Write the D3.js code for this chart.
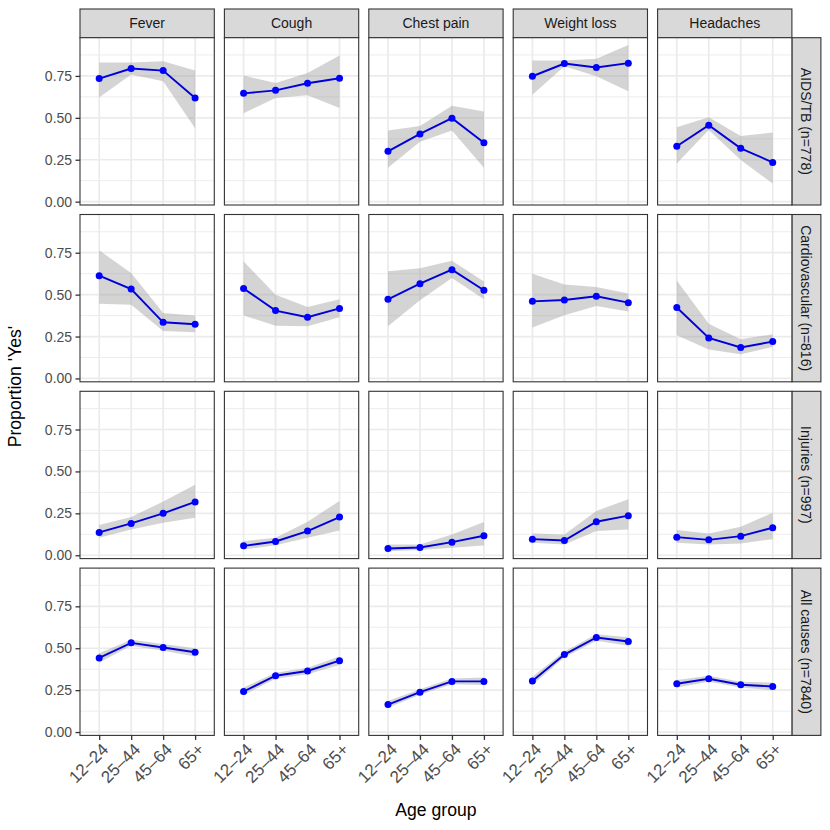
<!DOCTYPE html>
<html>
<head>
<meta charset="utf-8">
<script src="https://cdn.jsdelivr.net/npm/d3@7"></script>
<style>
body { margin: 0; background: #fff; }
text { font-family: "Liberation Sans", Arial, sans-serif; }
</style>
</head>
<body>
<div id="chart-area"></div>
<script>
var ageGroups = ['12\u201324', '25\u201344', '45\u201364', '65+'];
var symptoms = ['Fever', 'Cough', 'Chest pain', 'Weight loss', 'Headaches'];
var causes = ['AIDS/TB (n=778)', 'Cardiovascular (n=816)', 'Injuries (n=997)', 'All causes (n=7840)'];
var yTicks = [0, 0.25, 0.5, 0.75];
var yMinor = [0.125, 0.375, 0.625, 0.875];

// proportion 'Yes' per symptom (rows) and age group (columns)
var aidsProp   = [[0.734, 0.794, 0.782, 0.618], [0.646, 0.664, 0.706, 0.736], [0.300, 0.404, 0.498, 0.352], [0.748, 0.824, 0.800, 0.826], [0.330, 0.456, 0.318, 0.234]];
var aidsLo     = [[0.622, 0.758, 0.718, 0.438], [0.528, 0.618, 0.634, 0.558], [0.202, 0.358, 0.424, 0.202], [0.638, 0.808, 0.748, 0.658], [0.228, 0.428, 0.248, 0.108]];
var aidsHi     = [[0.830, 0.830, 0.838, 0.782], [0.752, 0.708, 0.768, 0.872], [0.424, 0.452, 0.572, 0.538], [0.842, 0.842, 0.852, 0.934], [0.444, 0.504, 0.392, 0.412]];

var cardioProp = [[0.613, 0.533, 0.335, 0.323], [0.537, 0.405, 0.365, 0.418], [0.472, 0.565, 0.649, 0.526], [0.460, 0.468, 0.490, 0.452], [0.423, 0.242, 0.185, 0.220]];
var cardioLo   = [[0.446, 0.440, 0.283, 0.276], [0.375, 0.315, 0.311, 0.365], [0.311, 0.466, 0.599, 0.472], [0.304, 0.377, 0.432, 0.400], [0.258, 0.173, 0.145, 0.188]];
var cardioHi   = [[0.764, 0.629, 0.390, 0.376], [0.698, 0.500, 0.426, 0.472], [0.640, 0.658, 0.702, 0.579], [0.625, 0.561, 0.545, 0.506], [0.585, 0.327, 0.234, 0.264]];

var injuryProp = [[0.136, 0.190, 0.250, 0.318], [0.056, 0.082, 0.144, 0.228], [0.040, 0.046, 0.078, 0.116], [0.096, 0.088, 0.200, 0.236], [0.108, 0.092, 0.114, 0.164]];
var injuryLo   = [[0.104, 0.154, 0.194, 0.224], [0.034, 0.060, 0.104, 0.148], [0.024, 0.032, 0.044, 0.058], [0.074, 0.064, 0.144, 0.154], [0.074, 0.064, 0.070, 0.096]];
var injuryHi   = [[0.180, 0.228, 0.320, 0.420], [0.084, 0.104, 0.200, 0.324], [0.064, 0.064, 0.124, 0.198], [0.130, 0.124, 0.264, 0.334], [0.150, 0.130, 0.170, 0.254]];

var allProp    = [[0.442, 0.532, 0.504, 0.476], [0.242, 0.336, 0.364, 0.426], [0.164, 0.238, 0.302, 0.302], [0.304, 0.462, 0.564, 0.540], [0.288, 0.318, 0.282, 0.272]];
var allLo      = [[0.415, 0.515, 0.485, 0.450], [0.220, 0.318, 0.345, 0.400], [0.145, 0.222, 0.285, 0.280], [0.280, 0.445, 0.545, 0.515], [0.265, 0.300, 0.265, 0.250]];
var allHi      = [[0.470, 0.550, 0.525, 0.500], [0.265, 0.353, 0.383, 0.450], [0.185, 0.255, 0.320, 0.325], [0.330, 0.480, 0.583, 0.565], [0.310, 0.336, 0.300, 0.295]];

var propRows = [aidsProp, cardioProp, injuryProp, allProp];
var loRows = [aidsLo, cardioLo, injuryLo, allLo];
var hiRows = [aidsHi, cardioHi, injuryHi, allHi];

var panelLeft = 80, panelTop = 37.7;
var panelW = 134.3, panelH = 167.3;
var pitchX = 144.4, pitchY = 176.8;
var stripH = 28.7, stripW = 29;

var svg = d3.select('#chart-area').append('svg')
			.attr('width', 830)
			.attr('height', 830);

var x = d3.scalePoint().domain(ageGroups).range([0, panelW]).padding(0.6);
var y = d3.scaleLinear().domain([-0.02, 0.978]).range([panelH, 0]);

var area = d3.area().x(d => x(d.age)).y0(d => y(d.lo)).y1(d => y(d.hi));
var line = d3.line().x(d => x(d.age)).y(d => y(d.p));

// top strips
symptoms.forEach((s, c) => {
	var sg = svg.append('g').attr('transform', `translate(${panelLeft + c * pitchX}, ${panelTop - stripH})`);
	sg.append('rect').attr('width', panelW).attr('height', stripH)
		.attr('fill', '#d9d9d9').attr('stroke', '#333').attr('stroke-width', 1.1);
	sg.append('text').attr('x', panelW / 2).attr('y', stripH / 2).attr('dy', '0.36em')
		.attr('text-anchor', 'middle').attr('font-size', '14px').attr('fill', '#1a1a1a').text(s);
});

// right strips
causes.forEach((cause, r) => {
	var sg = svg.append('g').attr('transform', `translate(${panelLeft + 4 * pitchX + panelW}, ${panelTop + r * pitchY})`);
	sg.append('rect').attr('width', stripW).attr('height', panelH)
		.attr('fill', '#d9d9d9').attr('stroke', '#333').attr('stroke-width', 1.1);
	sg.append('text').attr('transform', `translate(${stripW / 2}, ${panelH / 2}) rotate(90)`)
		.attr('dy', '0.36em').attr('text-anchor', 'middle').attr('font-size', '14px').attr('fill', '#1a1a1a').text(cause);
});

causes.forEach((cause, r) => {
	symptoms.forEach((s, c) => {
		var g = svg.append('g').attr('transform', `translate(${panelLeft + c * pitchX}, ${panelTop + r * pitchY})`);
		var data = ageGroups.map((a, i) => ({ age: a, p: propRows[r][c][i], lo: loRows[r][c][i], hi: hiRows[r][c][i] }));

		g.append('rect').attr('width', panelW).attr('height', panelH).attr('fill', '#fff');

		g.selectAll('.minor').data(yMinor).enter().append('line')
			.attr('x1', 0).attr('x2', panelW).attr('y1', d => y(d)).attr('y2', d => y(d))
			.attr('stroke', '#ebebeb').attr('stroke-width', 0.9);
		g.selectAll('.hmajor').data(yTicks).enter().append('line')
			.attr('x1', 0).attr('x2', panelW).attr('y1', d => y(d)).attr('y2', d => y(d))
			.attr('stroke', '#ebebeb').attr('stroke-width', 1.7);
		g.selectAll('.vmajor').data(ageGroups).enter().append('line')
			.attr('x1', d => x(d)).attr('x2', d => x(d)).attr('y1', 0).attr('y2', panelH)
			.attr('stroke', '#ebebeb').attr('stroke-width', 1.7);

		g.append('path').datum(data).attr('d', area).attr('fill', '#999').attr('fill-opacity', 0.42);
		g.append('path').datum(data).attr('d', line).attr('fill', 'none')
			.attr('stroke', '#0000d8').attr('stroke-width', 1.9);
		g.selectAll('circle').data(data).enter().append('circle')
			.attr('cx', d => x(d.age)).attr('cy', d => y(d.p)).attr('r', 3.5).attr('fill', '#0000ff');

		if (c === 0) {
			var yAxis = g.append('g').call(d3.axisLeft(y).tickValues(yTicks).tickFormat(d3.format('.2f')).tickSize(4.5).tickPadding(3.4));
			yAxis.select('.domain').remove();
			yAxis.selectAll('line').attr('stroke', '#333').attr('stroke-width', 1.3);
			yAxis.selectAll('text').attr('fill', '#4d4d4d').attr('font-size', '14px')
				.attr('font-family', '"Liberation Sans", Arial, sans-serif');
		}
		if (r === causes.length - 1) {
			var xAxis = g.append('g').attr('transform', `translate(0, ${panelH})`)
				.call(d3.axisBottom(x).tickSize(4.5));
			xAxis.select('.domain').remove();
			xAxis.selectAll('line').attr('stroke', '#333').attr('stroke-width', 1.3);
			xAxis.selectAll('text').attr('fill', '#4d4d4d').attr('font-size', '17px')
				.attr('font-family', '"Liberation Sans", Arial, sans-serif')
				.attr('text-anchor', 'end').attr('x', 0).attr('y', 0).attr('dy', '0.72em')
				.attr('transform', 'translate(1, 6.5) rotate(-45)');
		}

		g.append('rect').attr('width', panelW).attr('height', panelH)
			.attr('fill', 'none').attr('stroke', '#333').attr('stroke-width', 1.1);
	});
});

var panelsRight = panelLeft + 4 * pitchX + panelW;
var panelsBottom = panelTop + 3 * pitchY + panelH;

svg.append('text')
	.attr('x', (panelLeft + panelsRight) / 2)
	.attr('y', 816)
	.attr('font-size', '17.6px')
	.attr('text-anchor', 'middle')
	.text('Age group');

svg.append('text')
	.attr('transform', `translate(21, ${(panelTop + panelsBottom) / 2}) rotate(-90)`)
	.attr('font-size', '17.6px')
	.attr('text-anchor', 'middle')
	.text("Proportion 'Yes'");
</script>
</body>
</html>
